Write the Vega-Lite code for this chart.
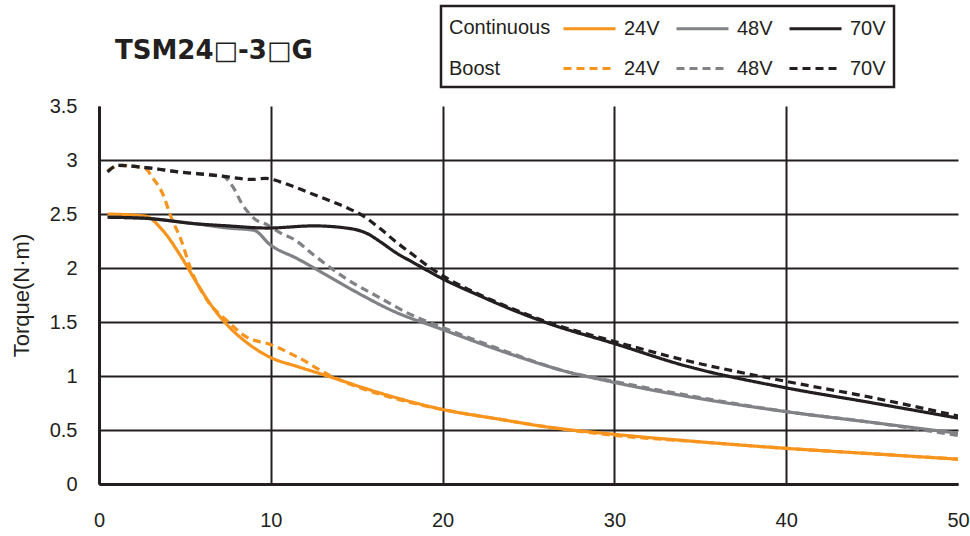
{
  "$schema": "https://vega.github.io/schema/vega-lite/v6.json",
  "autosize": "none",
  "width": 859,
  "height": 378,
  "padding": {"left": 99, "top": 106, "right": 12, "bottom": 52},
  "background": "white",
  "title": {
    "text": "TSM24□-3□G",
    "anchor": "start",
    "frame": "group",
    "dx": 16,
    "offset": 0,
    "dy": 80,
    "baseline": "alphabetic",
    "font": "DejaVu Sans",
    "fontSize": 26,
    "fontWeight": "bold",
    "color": "#231f20"
  },
  "data": {
    "values": [
      {"s": "C24", "x": 0.5, "y": 2.5}, {"s": "C24", "x": 2.7, "y": 2.48}, {"s": "C24", "x": 3.7, "y": 2.35}, {"s": "C24", "x": 4.8, "y": 2.1}, {"s": "C24", "x": 5.7, "y": 1.86}, {"s": "C24", "x": 6.6, "y": 1.64}, {"s": "C24", "x": 7.6, "y": 1.45}, {"s": "C24", "x": 8.6, "y": 1.31}, {"s": "C24", "x": 10, "y": 1.17}, {"s": "C24", "x": 11.5, "y": 1.09}, {"s": "C24", "x": 13.5, "y": 0.99}, {"s": "C24", "x": 15.4, "y": 0.89}, {"s": "C24", "x": 17.5, "y": 0.79}, {"s": "C24", "x": 20, "y": 0.69}, {"s": "C24", "x": 23.3, "y": 0.6}, {"s": "C24", "x": 26, "y": 0.53}, {"s": "C24", "x": 30, "y": 0.46}, {"s": "C24", "x": 35, "y": 0.39}, {"s": "C24", "x": 40, "y": 0.33}, {"s": "C24", "x": 45, "y": 0.28}, {"s": "C24", "x": 50, "y": 0.23},
      {"s": "B24", "x": 0.5, "y": 2.9}, {"s": "B24", "x": 1.2, "y": 2.95}, {"s": "B24", "x": 2.7, "y": 2.92}, {"s": "B24", "x": 3.1, "y": 2.84}, {"s": "B24", "x": 3.7, "y": 2.69}, {"s": "B24", "x": 4.2, "y": 2.47}, {"s": "B24", "x": 4.8, "y": 2.25}, {"s": "B24", "x": 5.3, "y": 2.01}, {"s": "B24", "x": 6.3, "y": 1.7}, {"s": "B24", "x": 7.4, "y": 1.52}, {"s": "B24", "x": 8.6, "y": 1.36}, {"s": "B24", "x": 10, "y": 1.29}, {"s": "B24", "x": 11.5, "y": 1.18}, {"s": "B24", "x": 13.5, "y": 1.0}, {"s": "B24", "x": 15.4, "y": 0.88}, {"s": "B24", "x": 17.5, "y": 0.78}, {"s": "B24", "x": 20, "y": 0.69}, {"s": "B24", "x": 23.3, "y": 0.6}, {"s": "B24", "x": 26, "y": 0.53}, {"s": "B24", "x": 30, "y": 0.45}, {"s": "B24", "x": 35, "y": 0.39}, {"s": "B24", "x": 40, "y": 0.33}, {"s": "B24", "x": 45, "y": 0.28}, {"s": "B24", "x": 50, "y": 0.23},
      {"s": "C48", "x": 0.5, "y": 2.47}, {"s": "C48", "x": 2.7, "y": 2.46}, {"s": "C48", "x": 5.6, "y": 2.41}, {"s": "C48", "x": 7.5, "y": 2.37}, {"s": "C48", "x": 9.0, "y": 2.35}, {"s": "C48", "x": 10, "y": 2.21}, {"s": "C48", "x": 11.5, "y": 2.09}, {"s": "C48", "x": 13.4, "y": 1.92}, {"s": "C48", "x": 15.4, "y": 1.74}, {"s": "C48", "x": 17, "y": 1.61}, {"s": "C48", "x": 20, "y": 1.43}, {"s": "C48", "x": 24, "y": 1.2}, {"s": "C48", "x": 27, "y": 1.05}, {"s": "C48", "x": 30, "y": 0.94}, {"s": "C48", "x": 35, "y": 0.79}, {"s": "C48", "x": 40, "y": 0.67}, {"s": "C48", "x": 45, "y": 0.57}, {"s": "C48", "x": 50, "y": 0.47},
      {"s": "B48", "x": 0.5, "y": 2.89}, {"s": "B48", "x": 1.1, "y": 2.95}, {"s": "B48", "x": 2.7, "y": 2.93}, {"s": "B48", "x": 4.6, "y": 2.89}, {"s": "B48", "x": 7.2, "y": 2.85}, {"s": "B48", "x": 7.8, "y": 2.75}, {"s": "B48", "x": 8.3, "y": 2.6}, {"s": "B48", "x": 9.1, "y": 2.45}, {"s": "B48", "x": 9.8, "y": 2.4}, {"s": "B48", "x": 10.5, "y": 2.33}, {"s": "B48", "x": 11.4, "y": 2.26}, {"s": "B48", "x": 12.5, "y": 2.12}, {"s": "B48", "x": 14.4, "y": 1.9}, {"s": "B48", "x": 16.4, "y": 1.72}, {"s": "B48", "x": 18, "y": 1.58}, {"s": "B48", "x": 20, "y": 1.45}, {"s": "B48", "x": 24, "y": 1.21}, {"s": "B48", "x": 27, "y": 1.05}, {"s": "B48", "x": 30, "y": 0.95}, {"s": "B48", "x": 35, "y": 0.8}, {"s": "B48", "x": 40, "y": 0.67}, {"s": "B48", "x": 45, "y": 0.57}, {"s": "B48", "x": 50, "y": 0.45},
      {"s": "C70", "x": 0.5, "y": 2.47}, {"s": "C70", "x": 2.7, "y": 2.46}, {"s": "C70", "x": 5.6, "y": 2.41}, {"s": "C70", "x": 7.5, "y": 2.39}, {"s": "C70", "x": 9.8, "y": 2.37}, {"s": "C70", "x": 12.5, "y": 2.39}, {"s": "C70", "x": 14.4, "y": 2.37}, {"s": "C70", "x": 15.6, "y": 2.32}, {"s": "C70", "x": 16.4, "y": 2.24}, {"s": "C70", "x": 17.3, "y": 2.14}, {"s": "C70", "x": 18.3, "y": 2.05}, {"s": "C70", "x": 20, "y": 1.9}, {"s": "C70", "x": 22.2, "y": 1.74}, {"s": "C70", "x": 23.2, "y": 1.67}, {"s": "C70", "x": 26.1, "y": 1.49}, {"s": "C70", "x": 30, "y": 1.3}, {"s": "C70", "x": 34, "y": 1.1}, {"s": "C70", "x": 40, "y": 0.89}, {"s": "C70", "x": 44.7, "y": 0.76}, {"s": "C70", "x": 50, "y": 0.61},
      {"s": "B70", "x": 0.5, "y": 2.89}, {"s": "B70", "x": 1.1, "y": 2.95}, {"s": "B70", "x": 2.7, "y": 2.93}, {"s": "B70", "x": 4.6, "y": 2.89}, {"s": "B70", "x": 7.2, "y": 2.85}, {"s": "B70", "x": 8.9, "y": 2.82}, {"s": "B70", "x": 9.7, "y": 2.83}, {"s": "B70", "x": 10.5, "y": 2.8}, {"s": "B70", "x": 11.4, "y": 2.75}, {"s": "B70", "x": 12.5, "y": 2.68}, {"s": "B70", "x": 14.4, "y": 2.56}, {"s": "B70", "x": 15.4, "y": 2.48}, {"s": "B70", "x": 16.4, "y": 2.36}, {"s": "B70", "x": 17.3, "y": 2.24}, {"s": "B70", "x": 18.3, "y": 2.12}, {"s": "B70", "x": 19.3, "y": 2.0}, {"s": "B70", "x": 20.2, "y": 1.91}, {"s": "B70", "x": 22.2, "y": 1.75}, {"s": "B70", "x": 23.2, "y": 1.68}, {"s": "B70", "x": 26.1, "y": 1.5}, {"s": "B70", "x": 30, "y": 1.32}, {"s": "B70", "x": 34, "y": 1.15}, {"s": "B70", "x": 40, "y": 0.95}, {"s": "B70", "x": 44.7, "y": 0.81}, {"s": "B70", "x": 50, "y": 0.63}
    ]
  },
  "mark": {"type": "line", "strokeWidth": 3.2, "interpolate": "monotone", "clip": true},
  "encoding": {
    "x": {
      "field": "x", "type": "quantitative",
      "scale": {"domain": [0, 50], "nice": false, "zero": false},
      "axis": {
        "values": [0, 10, 20, 30, 40, 50],
        "title": null,
        "gridOpacity": {"condition": {"test": "datum.value >= 50", "value": 0}, "value": 1}
      }
    },
    "y": {
      "field": "y", "type": "quantitative",
      "scale": {"domain": [0, 3.5], "nice": false},
      "axis": {
        "values": [0, 0.5, 1, 1.5, 2, 2.5, 3, 3.5],
        "format": "~g",
        "title": "Torque(N·m)",
        "gridOpacity": {"condition": {"test": "datum.value >= 3.5", "value": 0}, "value": 1}
      }
    },
    "color": {
      "field": "s", "type": "nominal",
      "scale": {
        "domain": ["C24", "C48", "C70", "B24", "B48", "B70"],
        "range": ["#f7941d", "#808285", "#231f20", "#f7941d", "#808285", "#231f20"]
      },
      "legend": {
        "orient": "none",
        "legendX": 342,
        "legendY": -100,
        "columns": 3,
        "direction": "horizontal",
        "title": ["Continuous", "Boost"],
        "titleOrient": "left",
        "labelExpr": "slice(datum.label, 1) + 'V'"
      }
    },
    "strokeDash": {
      "field": "s", "type": "nominal",
      "scale": {
        "domain": ["C24", "C48", "C70", "B24", "B48", "B70"],
        "range": [[1, 0], [1, 0], [1, 0], [8, 5], [8, 5], [8, 5]]
      },
      "legend": {
        "orient": "none",
        "legendX": 342,
        "legendY": -100,
        "columns": 3,
        "direction": "horizontal",
        "title": ["Continuous", "Boost"],
        "titleOrient": "left",
        "labelExpr": "slice(datum.label, 1) + 'V'"
      }
    },
    "order": {"field": "x", "type": "quantitative"}
  },
  "config": {
    "view": {"stroke": null},
    "font": "Liberation Sans",
    "axis": {
      "labelFont": "Liberation Sans",
      "labelFontSize": 20,
      "labelColor": "#231f20",
      "titleFont": "Liberation Sans",
      "titleFontSize": 22,
      "titleFontWeight": "normal",
      "titleColor": "#231f20",
      "domainColor": "#231f20",
      "domainWidth": 3,
      "gridColor": "#231f20",
      "gridWidth": 2,
      "ticks": false,
      "labelFlush": false
    },
    "axisX": {"labelPadding": 26, "grid": true},
    "axisY": {"labelPadding": 22, "titlePadding": 16, "grid": true},
    "legend": {
      "symbolType": "M-1,0H3",
      "symbolSize": 676,
      "symbolStrokeWidth": 3,
      "labelFont": "Liberation Sans",
      "labelFontSize": 20,
      "labelColor": "#231f20",
      "labelOffset": 33,
      "titleFont": "Liberation Sans",
      "titleFontSize": 20,
      "titleFontWeight": "normal",
      "titleColor": "#231f20",
      "titleLineHeight": 41,
      "titlePadding": 11,
      "titleAnchor": "end",
      "titleBaseline": "bottom",
      "columnPadding": 10,
      "rowPadding": 15,
      "padding": 8,
      "strokeColor": "#231f20",
      "strokeWidth": 2.5,
      "labelLimit": 200,
      "titleLimit": 300
    }
  }
}
